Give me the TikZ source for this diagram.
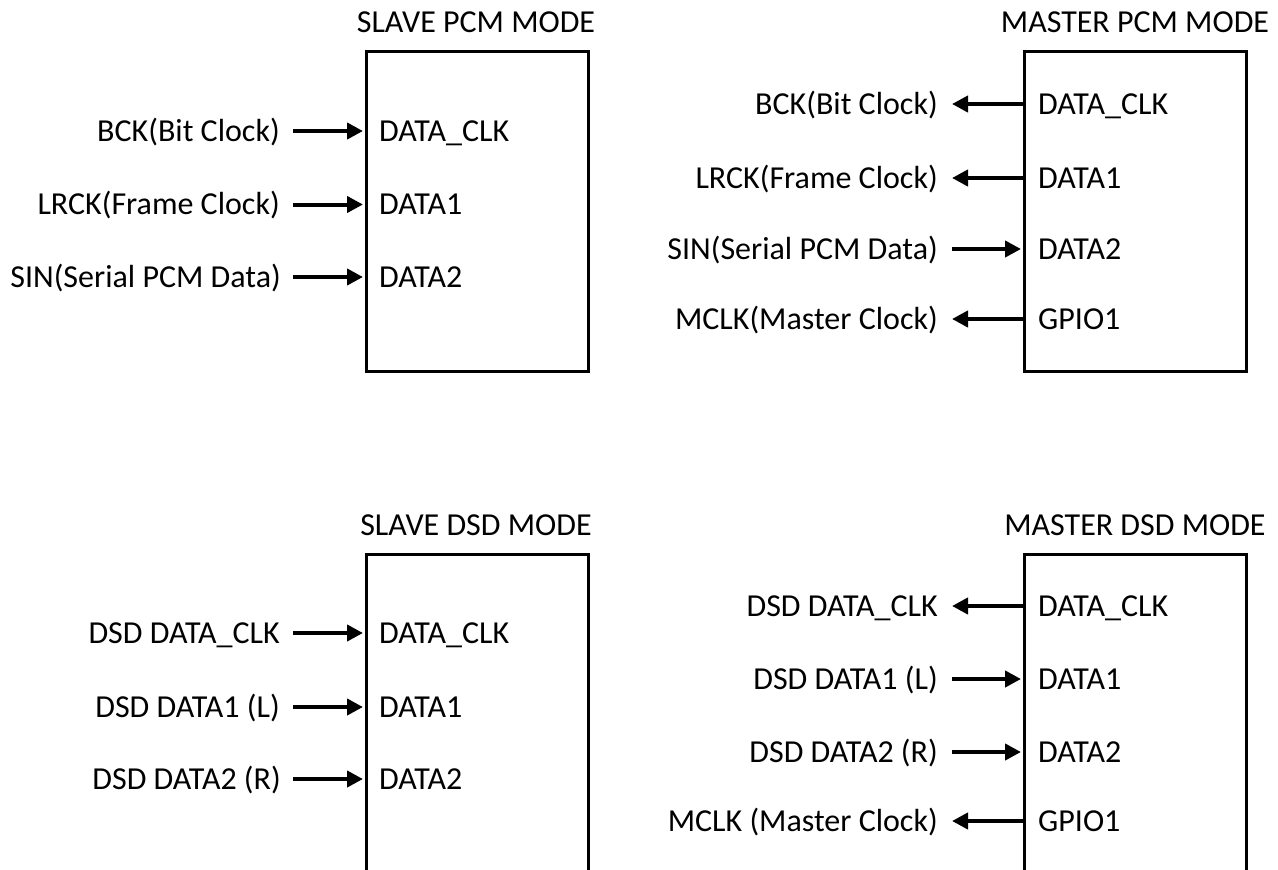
\documentclass[tikz,border=0pt]{standalone}
\usepackage{fontspec}
\setmainfont{Carlito}
\usetikzlibrary{arrows.meta}
\begin{document}
\begin{tikzpicture}[x=1pt,y=-1pt,
  chip/.style={draw, line width=2.8pt, minimum width=222pt, minimum height=320pt, inner sep=0pt, anchor=north west},
  chiplow/.style={chip, minimum height=340pt},
  txt/.style={font=\fontsize{32}{38}\selectfont, inner sep=0pt, text height=20.6pt, text depth=0pt},
  ext/.style={txt, anchor=east},
  port/.style={txt, anchor=west},
  arr/.style={line width=4pt, -{Triangle[length=16pt,width=16pt]}}]
\useasboundingbox (0,0) rectangle (1278,870);
\clip (0,0) rectangle (1278,870);
% ---------------- SLAVE PCM ----------------
\node[chip] (sp) at (365,50) {};
\node[txt] (spt) at (476,22) {SLAVE PCM MODE};
\node[ext]  (sa1) at (280,131) {BCK(Bit Clock)};
\node[port] (sb1) at (379,131) {DATA\_CLK};
\node[ext]  (sa2) at (280,204.5) {LRCK(Frame Clock)};
\node[port] (sb2) at (379,204.5) {DATA1};
\node[ext]  (sa3) at (281,277) {SIN(Serial PCM Data)};
\node[port] (sb3) at (379,277) {DATA2};
\draw[arr] ([xshift=13pt]sa1.east) -- ([xshift=-2pt]sa1.east -| sp.west);
\draw[arr] ([xshift=13pt]sa2.east) -- ([xshift=-2pt]sa2.east -| sp.west);
\draw[arr] ([xshift=12pt]sa3.east) -- ([xshift=-2pt]sa3.east -| sp.west);
% ---------------- MASTER PCM ----------------
\node[chip] (mp) at (1023,50) {};
\node[txt] (mpt) at (1135,22) {MASTER PCM MODE};
\node[ext]  (ma1) at (938,104) {BCK(Bit Clock)};
\node[port] (mb1) at (1038,104) {DATA\_CLK};
\node[ext]  (ma2) at (938,178) {LRCK(Frame Clock)};
\node[port] (mb2) at (1038,178) {DATA1};
\node[ext]  (ma3) at (938,249) {SIN(Serial PCM Data)};
\node[port] (mb3) at (1038,249) {DATA2};
\node[ext]  (ma4) at (938,319) {MCLK(Master Clock)};
\node[port] (mb4) at (1038,319) {GPIO1};
\draw[arr] (ma1.east -| mp.west) -- ([xshift=14pt]ma1.east);
\draw[arr] (ma2.east -| mp.west) -- ([xshift=14pt]ma2.east);
\draw[arr] ([xshift=14pt]ma3.east) -- ([xshift=-2pt]ma3.east -| mp.west);
\draw[arr] (ma4.east -| mp.west) -- ([xshift=14pt]ma4.east);
% ---------------- SLAVE DSD ----------------
\node[chiplow] (sd) at (365,553) {};
\node[txt] (sdt) at (476,525) {SLAVE DSD MODE};
\node[ext]  (sc1) at (280,633) {DSD DATA\_CLK};
\node[port] (se1) at (379,633) {DATA\_CLK};
\node[ext]  (sc2) at (280,707) {DSD DATA1 (L)};
\node[port] (se2) at (379,707) {DATA1};
\node[ext]  (sc3) at (281,779) {DSD DATA2 (R)};
\node[port] (se3) at (379,779) {DATA2};
\draw[arr] ([xshift=13pt]sc1.east) -- ([xshift=-2pt]sc1.east -| sd.west);
\draw[arr] ([xshift=13pt]sc2.east) -- ([xshift=-2pt]sc2.east -| sd.west);
\draw[arr] ([xshift=12pt]sc3.east) -- ([xshift=-2pt]sc3.east -| sd.west);
% ---------------- MASTER DSD ----------------
\node[chiplow] (md) at (1023,553) {};
\node[txt] (mdt) at (1135,525) {MASTER DSD MODE};
\node[ext]  (mc1) at (938,606) {DSD DATA\_CLK};
\node[port] (me1) at (1038,606) {DATA\_CLK};
\node[ext]  (mc2) at (938,679) {DSD DATA1 (L)};
\node[port] (me2) at (1038,679) {DATA1};
\node[ext]  (mc3) at (938,752) {DSD DATA2 (R)};
\node[port] (me3) at (1038,752) {DATA2};
\node[ext]  (mc4) at (938,821) {MCLK (Master Clock)};
\node[port] (me4) at (1038,821) {GPIO1};
\draw[arr] (mc1.east -| md.west) -- ([xshift=14pt]mc1.east);
\draw[arr] ([xshift=14pt]mc2.east) -- ([xshift=-2pt]mc2.east -| md.west);
\draw[arr] ([xshift=14pt]mc3.east) -- ([xshift=-2pt]mc3.east -| md.west);
\draw[arr] (mc4.east -| md.west) -- ([xshift=14pt]mc4.east);
\end{tikzpicture}
\end{document}
